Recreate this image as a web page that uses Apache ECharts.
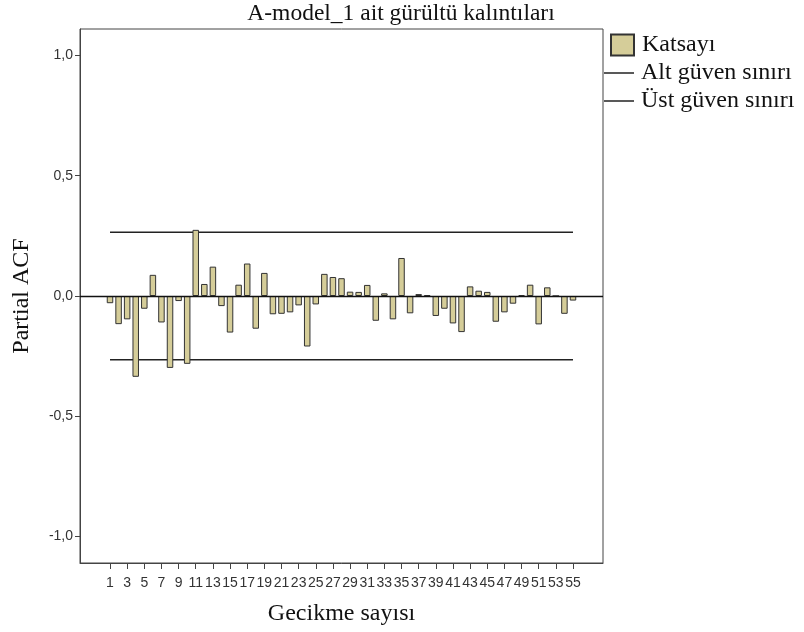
<!DOCTYPE html>
<html>
<head>
<meta charset="utf-8">
<script src="https://cdn.jsdelivr.net/npm/echarts@6/dist/echarts.min.js"></script>
<style>
  html, body { margin: 0; padding: 0; background: #fff; }
  #chart { width: 804px; height: 632px; }
</style>
</head>
<body>
<div id="chart"></div>
<script>
// Partial autocorrelation of the noise residuals, lags 1..55
const lags = [1,2,3,4,5,6,7,8,9,10,11,12,13,14,15,16,17,18,19,20,21,22,23,24,25,26,27,28,29,30,31,32,33,34,35,36,37,38,39,40,41,42,43,44,45,46,47,48,49,50,51,52,53,54,55];
const pacf = [-0.030,-0.117,-0.097,-0.336,-0.053,0.088,-0.110,-0.299,-0.021,-0.282,
              0.275,0.050,0.122,-0.042,-0.152,0.047,0.135,-0.136,0.096,-0.076,
              -0.074,-0.068,-0.039,-0.210,-0.035,0.092,0.079,0.074,0.018,0.017,
              0.046,-0.103,0.011,-0.097,0.158,-0.072,0.008,0.003,-0.083,-0.053,
              -0.114,-0.150,0.040,0.022,0.017,-0.107,-0.068,-0.032,0.004,0.047,
              -0.118,0.036,0.000,-0.074,-0.019];
const lowerLimit = -0.265;   // Alt güven sınırı
const upperLimit = 0.265;    // Üst güven sınırı
const xTickLags = [1,3,5,7,9,11,13,15,17,19,21,23,25,27,29,31,33,35,37,39,41,43,45,47,49,51,53,55];
const yTickValues = [-1.0, -0.5, 0.0, 0.5, 1.0];

const barData = lags.map((l, i) => [l, pacf[i]]);
const firstLag = lags[0], lastLag = lags[lags.length - 1];

const chart = echarts.init(document.getElementById('chart'));
const serif = '"Liberation Serif", "Times New Roman", serif';
const sans = '"Liberation Sans", Arial, sans-serif';
const bigText = 24;

chart.setOption({
  animation: false,
  backgroundColor: '#fff',
  title: {
    text: 'A-model_1 ait gürültü kalıntıları',
    left: 401, top: 2, textAlign: 'center', padding: 0,
    textStyle: { fontFamily: serif, fontSize: 23.5, fontWeight: 'normal', color: '#111' }
  },
  legend: [
    {
      left: 610, top: 33, orient: 'vertical', padding: 0,
      itemWidth: 23, itemHeight: 21,
      data: [{ name: 'Katsayı', icon: 'rect' }],
      textStyle: { fontFamily: serif, fontSize: bigText, color: '#111', padding: [0,0,0,3] }
    },
    {
      left: 604, top: 61, orient: 'vertical', itemGap: 4, padding: 0,
      itemWidth: 30, itemHeight: 1.5,
      data: [{ name: 'Alt güven sınırı', icon: 'rect' }, { name: 'Üst güven sınırı', icon: 'rect' }],
      textStyle: { fontFamily: serif, fontSize: bigText, color: '#111', padding: [0,0,0,2] }
    }
  ],
  grid: {
    left: 80, right: 201, top: 29, bottom: 69,
    outerBoundsMode: 'none', containLabel: false,
    show: true, borderColor: '#444', borderWidth: 1
  },
  xAxis: {
    type: 'value', min: -2.5, max: 58.5,
    name: 'Gecikme sayısı', nameLocation: 'middle', nameGap: 39,
    nameTextStyle: { fontFamily: serif, fontSize: bigText, color: '#111', verticalAlign: 'top' },
    axisLine: { show: true, onZero: false, lineStyle: { color: '#444', width: 1 } },
    axisTick: { show: true, length: 6, customValues: xTickLags, lineStyle: { color: '#444' } },
    axisLabel: { customValues: xTickLags, fontFamily: sans, fontSize: 14, color: '#333', margin: 13 },
    splitLine: { show: false }
  },
  yAxis: {
    type: 'value', min: -1.11, max: 1.11,
    name: 'Partial ACF', nameLocation: 'middle', nameGap: 46, nameRotate: 90,
    nameTextStyle: { fontFamily: serif, fontSize: bigText, color: '#111' },
    axisLine: { show: true, onZero: false, lineStyle: { color: '#444', width: 1 } },
    axisTick: { show: true, length: 5, customValues: yTickValues, lineStyle: { color: '#444' } },
    axisLabel: {
      customValues: yTickValues, fontFamily: sans, fontSize: 14, color: '#333', margin: 7,
      formatter: v => v.toFixed(1).replace('.', ',')
    },
    splitLine: { show: false }
  },
  series: [
    {
      name: 'Katsayı', type: 'bar', data: barData, barWidth: 6.5,
      itemStyle: { color: '#d5cd99', borderColor: '#333', borderWidth: 1 },
      markLine: {
        silent: true, symbol: 'none', label: { show: false },
        lineStyle: { color: '#111', width: 1.3, type: 'solid' },
        data: [{ yAxis: 0 }]
      },
      z: 3
    },
    {
      name: 'Alt güven sınırı', type: 'line', symbol: 'none',
      data: [[firstLag, lowerLimit], [lastLag, lowerLimit]],
      lineStyle: { color: '#222', width: 1.5 }, itemStyle: { color: '#222' }, z: 2
    },
    {
      name: 'Üst güven sınırı', type: 'line', symbol: 'none',
      data: [[firstLag, upperLimit], [lastLag, upperLimit]],
      lineStyle: { color: '#222', width: 1.5 }, itemStyle: { color: '#222' }, z: 2
    }
  ]
});
</script>
</body>
</html>
